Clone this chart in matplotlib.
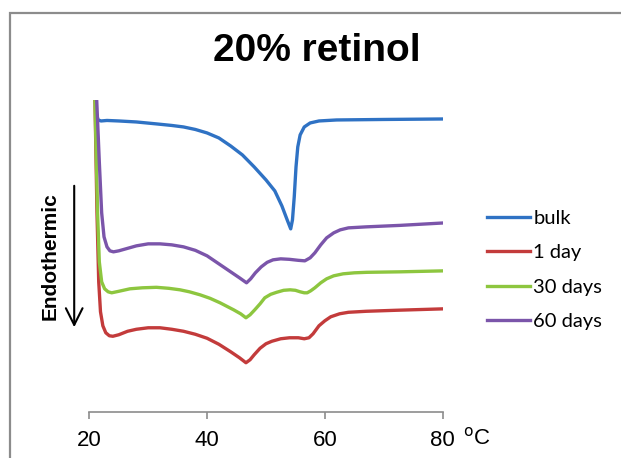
import matplotlib
matplotlib.use("Agg")
import matplotlib.pyplot as plt
from matplotlib.patches import Rectangle, FancyArrowPatch

# DSC traces, heat flow in arbitrary units
t_bulk = [20.6, 20.8, 21.0, 21.2, 21.5, 22.0, 23.0, 25.0, 28.0, 31.5, 34.0, 36.0,
          38.0, 40.0, 42.0, 44.0, 46.0, 48.0, 50.0, 51.5, 52.7, 53.6, 54.2, 54.5,
          54.8, 55.1, 55.4, 55.8, 56.5, 57.5, 59.0, 62.0, 70.0, 80.3]
bulk = [420, 360, 315, 298, 292, 291, 291.5, 291, 290, 288, 286.5, 285,
        282.5, 279, 274, 266, 257, 245, 232, 221, 206, 192, 183, 192,
        215, 245, 265, 277, 285, 289, 291, 292, 292.5, 293]

t_1d = [20.7, 21.0, 21.3, 21.6, 21.9, 22.3, 22.8, 23.4, 24.0, 25.0, 26.5, 28.0,
        30.0, 32.0, 34.0, 36.0, 38.0, 40.0, 42.0, 44.0, 45.5, 46.6, 47.3, 48.0,
        49.0, 50.0, 51.0, 52.5, 54.0, 55.5, 56.5, 57.3, 58.0, 59.0, 60.0, 61.0,
        62.5, 64.0, 67.0, 72.0, 80.4]
day1 = [420, 300, 200, 130, 100, 86, 79, 76, 75.5, 77, 80.5, 82.5,
        84, 84, 82.5, 80.5, 77.5, 73.5, 67.5, 60, 54, 49, 52, 57,
        63.5, 68, 70.5, 73, 74, 74, 73, 74, 78, 86, 91, 95,
        98, 99.5, 100.5, 101.5, 103]

t_30d = [20.6, 21.0, 21.4, 21.7, 22.1, 22.6, 23.2, 23.8, 25.0, 26.9, 29.0, 31.4,
         33.5, 35.4, 37.0, 38.8, 40.5, 42.2, 44.5, 45.7, 46.6, 47.3, 48.1, 49.0,
         49.8, 50.8, 51.8, 53.0, 54.1, 55.0, 55.8, 56.5, 57.0, 57.6, 58.3, 59.3,
         60.3, 61.5, 63.1, 65.0, 67.1, 72.8, 80.4]
day30 = [420, 300, 200, 150, 130, 123, 120, 119, 120.5, 123, 124, 124.5,
         123.5, 122, 120, 117, 113.5, 109, 102, 98, 94, 97, 102, 108,
         114, 117.5, 119.5, 121.5, 122, 121.5, 120, 119, 119, 121, 124, 129,
         133, 136, 138, 139, 139.5, 140, 141]

t_60d = [20.7, 21.2, 21.7, 22.1, 22.5, 23.0, 23.5, 24.1, 25.0, 26.5, 28.0, 30.0,
         32.0, 34.0, 36.0, 38.0, 40.0, 42.0, 44.0, 45.5, 46.7, 47.4, 48.2, 49.2,
         50.2, 51.2, 52.5, 54.0, 55.5, 56.6, 57.5, 58.3, 59.3, 60.3, 61.5, 62.6,
         64.0, 67.0, 72.8, 80.4]
day60 = [420, 320, 250, 199, 175, 165, 161, 160, 161, 163.5, 166, 168,
         168, 167, 165, 161.5, 156, 148, 140, 134, 129, 133, 139, 145,
         149.5, 152, 153, 152.5, 151.5, 151, 154, 159, 167, 174, 179, 182,
         184, 185, 186.5, 189]

labels = ["bulk", "1 day", "30 days", "60 days"]
colors = ["#2f72c4", "#c33b3b", "#8dc63f", "#7b55aa"]
xticks = [20, 40, 60, 80]

fig = plt.figure(figsize=(6.21, 4.58), dpi=100)
ax = fig.add_axes([0.1438, 0.1011, 0.569, 0.6806])

series = [(t_bulk, bulk), (t_1d, day1), (t_30d, day30), (t_60d, day60)]
for (t, y), lab, c in zip(series, labels, colors):
    ax.plot(t, y, color=c, lw=2.4, label=lab, solid_joinstyle="round")

ax.set_xlim(20, 80)
ax.set_ylim(0, 312)
ax.set_xticks(xticks)
ax.yaxis.set_visible(False)
for s in ["top", "right", "left"]:
    ax.spines[s].set_visible(False)
ax.spines["bottom"].set_color("#8c8c8c")
ax.spines["bottom"].set_linewidth(1.2)
ax.tick_params(axis="x", direction="out", length=5, width=1.2, color="#8c8c8c",
               labelsize=16, pad=8)
for lb in ax.get_xticklabels():
    lb.set_fontfamily("Liberation Sans")

fig.text(0.768, 0.043, r"$^{\rm o}$C", fontsize=16, family="Liberation Sans",
         ha="center", va="center")

# title
fig.text(0.51, 0.888, "20% retinol", fontsize=28, fontweight="bold",
         family="Liberation Sans", ha="center", va="center")

# endothermic label and arrow
fig.text(0.081, 0.44, "Endothermic", rotation=90, fontsize=15, fontweight="bold",
         family="Liberation Sans", ha="center", va="center")
fig.add_artist(FancyArrowPatch(
    (0.1195, 1 - 183 / 458), (0.1195, 1 - 330 / 458), transform=fig.transFigure,
    arrowstyle="->,head_length=0.6,head_width=0.3", lw=1.5, color="black",
    mutation_scale=20))

# legend
ax.legend(loc="center left", bbox_to_anchor=(0.784, 0.4105),
          bbox_transform=fig.transFigure, frameon=False,
          prop={"family": "Lato", "size": 14.5}, handlelength=2.15,
          handletextpad=0.15, labelspacing=0.85, borderpad=0, borderaxespad=0)

# chart border
fig.add_artist(Rectangle((0.0161, -0.1), 1.2, 0.1 + 1 - 12.5 / 458,
                         transform=fig.transFigure, fill=False,
                         edgecolor="#8c8c8c", lw=1.6))

fig.savefig("out.png", dpi=100)
